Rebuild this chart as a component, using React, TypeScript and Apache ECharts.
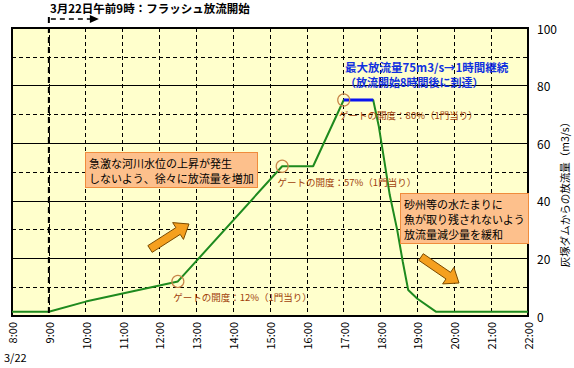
import React, { useEffect, useRef } from "react";
import * as echarts from "echarts";

const FONT = "'Noto Sans CJK JP', 'Noto Sans', sans-serif";

// x axis: hours of 3/22
const hourTicks = [8, 9, 10, 11, 12, 13, 14, 15, 16, 17, 18, 19, 20, 21, 22];
// discharge from Haizuka dam (m3/s)
const flowTimes = [8, 9, 10, 12.5, 15.33, 16.17, 17, 17.8, 17.95, 18.25, 18.45, 18.6, 18.75, 19.0, 19.5, 22];
const flowValues = [1.5, 1.5, 5, 12, 52, 52, 75, 75, 66, 42, 30, 19, 9, 6, 1.5, 1.5];
// max discharge held for 1 hour
const peakTimes = [17, 17.8];
const peakValues = [75, 75];
// gate opening markers
const gateTimes = [12.5, 15.33, 17];
const gateValues = [12, 52, 75];
const gateLabels = ["ゲートの開度：12%（1門当り）", "ゲートの開度：57%（1門当り）", "ゲートの開度：80%（1門当り）"];

const yTicks = { min: 0, max: 100, interval: 20 };
const yName = "灰塚ダムからの放流量（m3/s）";

function arrowPts(tx: number, ty: number, hx: number, hy: number, shaft: number, headLen: number, headW: number) {
  const dx = hx - tx, dy = hy - ty;
  const L = Math.hypot(dx, dy);
  const ux = dx / L, uy = dy / L;
  const px = -uy, py = ux;
  const bx = hx - ux * headLen, by = hy - uy * headLen;
  return [
    [tx + (px * shaft) / 2, ty + (py * shaft) / 2],
    [bx + (px * shaft) / 2, by + (py * shaft) / 2],
    [bx + (px * headW) / 2, by + (py * headW) / 2],
    [hx, hy],
    [bx - (px * headW) / 2, by - (py * headW) / 2],
    [bx - (px * shaft) / 2, by - (py * shaft) / 2],
    [tx - (px * shaft) / 2, ty - (py * shaft) / 2],
  ];
}

export default function App() {
  const ref = useRef<HTMLDivElement>(null);
  useEffect(() => {
    if (!ref.current) return;
    const chart = echarts.init(ref.current, null, { renderer: "svg" });
    const option: any = {
      animation: false,
      backgroundColor: "#fff",
      textStyle: { fontFamily: FONT },
      grid: {
        left: 12, right: 46, top: 28, bottom: 52, show: true,
        backgroundColor: "#FFFFCC", borderColor: "#000", borderWidth: 2,
      },
      xAxis: {
        type: "value", min: hourTicks[0], max: hourTicks[hourTicks.length - 1], interval: 1,
        axisLine: { show: false }, axisTick: { show: false },
        splitLine: { show: true, lineStyle: { color: "#000", type: [4, 3], width: 1 } },
        axisLabel: {
          rotate: 90, fontSize: 11, color: "#000", margin: 6, fontFamily: FONT,
          showMinLabel: true, showMaxLabel: true,
          formatter: (v: number) => `${v}:00`,
        },
      },
      yAxis: {
        type: "value", position: "right", min: yTicks.min, max: yTicks.max, interval: yTicks.interval,
        axisLine: { show: false },
        axisTick: { show: true, inside: true, length: 5, lineStyle: { color: "#000" } },
        splitLine: { show: true, lineStyle: { color: "#000", width: 1 } },
        minorTick: { show: false, splitNumber: 2 },
        minorSplitLine: { show: true, lineStyle: { color: "#000", type: [4, 3], width: 1 } },
        axisLabel: { fontSize: 12, color: "#000", margin: 9, fontFamily: FONT },
      },
      series: [
        {
          type: "line", data: flowTimes.map((t, i) => [t, flowValues[i]]), symbol: "none",
          lineStyle: { color: "#1E8A1E", width: 2 }, z: 3,
        },
        {
          type: "line", data: peakTimes.map((t, i) => [t, peakValues[i]]), symbol: "none",
          lineStyle: { color: "#0A14F0", width: 3 }, z: 4,
        },
        {
          type: "scatter", data: gateTimes.map((t, i) => [t, gateValues[i]]), symbol: "circle", symbolSize: 12,
          itemStyle: { color: "rgba(0,0,0,0)", borderColor: "#C8864A", borderWidth: 1.2, opacity: 1 }, z: 5,
          label: {
            show: true, position: [2, 22], align: "left", verticalAlign: "middle",
            fontSize: 9.5, color: "#A0400A", fontFamily: FONT, textBorderWidth: 0, opacity: 1,
            formatter: (p: any) => gateLabels[p.dataIndex],
          },
        },
      ],
    };
    chart.setOption(option);

    const p9top = chart.convertToPixel({ gridIndex: 0 }, [9, 100]) as number[];
    const p9bot = chart.convertToPixel({ gridIndex: 0 }, [9, 0]) as number[];
    const x9 = p9top[0];
    const yArrow = 19;
    const boxStyle = {
      fill: "#000", fontSize: 11, fontFamily: FONT, backgroundColor: "#FDC08C",
      borderColor: "#F08C3C", borderWidth: 1, padding: [2, 3, 2, 3], lineHeight: 15,
    };
    const blue = { fontSize: 11, fontWeight: "bold", fill: "#1030E0", fontFamily: FONT, verticalAlign: "middle" };
    chart.setOption({
      graphic: [
        { type: "text", x: 50, y: 2, style: { text: "3月22日午前9時：フラッシュ放流開始", fontSize: 11.5, fontWeight: "bold", fill: "#000", fontFamily: FONT } },
        { type: "line", shape: { x1: x9, y1: yArrow - 2, x2: x9, y2: p9bot[1] }, style: { stroke: "#000", lineWidth: 2, lineDash: [6, 4] }, z: 10 },
        { type: "line", shape: { x1: x9 + 2, y1: yArrow, x2: x9 + 42, y2: yArrow }, style: { stroke: "#000", lineWidth: 1.5, lineDash: [5, 4] }, z: 10 },
        { type: "polygon", shape: { points: [[x9 + 41, yArrow - 4], [x9 + 50, yArrow], [x9 + 41, yArrow + 4]] }, style: { fill: "#000" }, z: 10 },
        { type: "text", x: 345, y: 67, style: { ...blue, fontSize: 11.5, text: "最大放流量75m3/s→1時間継続" }, z: 10 },
        { type: "text", x: 345, y: 82, style: { ...blue, text: "（放流開始8時間後に到達）" }, z: 10 },
        { type: "text", x: 86, y: 153, style: { ...boxStyle, text: "急激な河川水位の上昇が発生\nしないよう、徐々に放流量を増加" }, z: 10 },
        { type: "text", x: 401, y: 194, style: { ...boxStyle, text: "砂州等の水たまりに\n魚が取り残されないよう\n放流量減少量を緩和" }, z: 10 },
        { type: "polygon", shape: { points: arrowPts(150, 249, 189, 224, 8, 13, 20) }, style: { fill: "#F5A01E", stroke: "#7A4A00", lineWidth: 1 }, z: 10 },
        { type: "polygon", shape: { points: arrowPts(421, 257, 459, 283, 8, 13, 20) }, style: { fill: "#F5A01E", stroke: "#7A4A00", lineWidth: 1 }, z: 10 },
        { type: "text", x: 4, y: 351, style: { text: "3/22", fontSize: 11, fill: "#000", fontFamily: FONT } },
        { type: "text", x: 564, y: 192, rotation: Math.PI / 2, style: { text: yName, fontSize: 10.5, fill: "#000", fontFamily: FONT, align: "center", verticalAlign: "middle" } },
      ],
    });
    return () => chart.dispose();
  }, []);
  return <div ref={ref} style={{ width: 574, height: 368, position: "absolute", left: 0, top: 0 }} />;
}
